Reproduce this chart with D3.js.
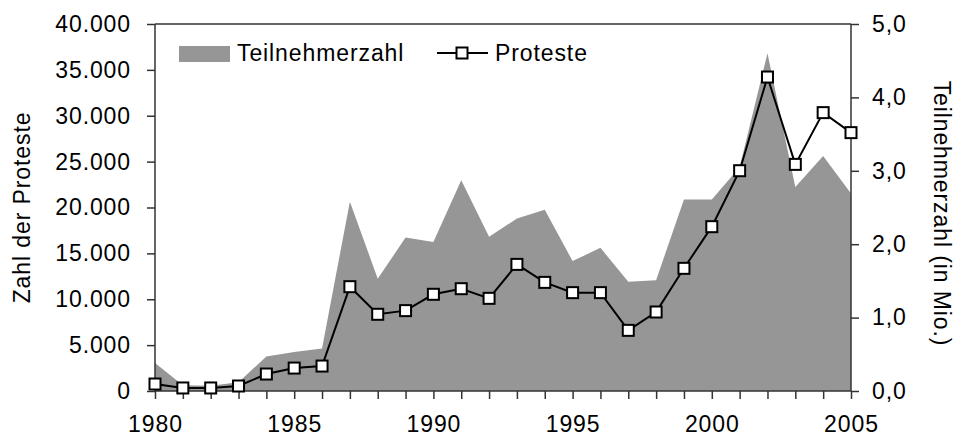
<!DOCTYPE html>
<html>
<head>
<meta charset="utf-8">
<script src="https://cdn.jsdelivr.net/npm/d3@7"></script>
<style>
  body { margin: 0; background: #fff; }
  text { font-family: "Liberation Sans", Arial, sans-serif; fill: #000; letter-spacing: 0.9px; }
</style>
</head>
<body>
<script>
// data
let years = d3.range(1980, 2006)
let teilnehmer = [0.38, 0.08, 0.07, 0.12, 0.47, 0.53, 0.58, 2.58, 1.53, 2.09, 2.03, 2.87, 2.10,
    2.35, 2.47, 1.77, 1.95, 1.49, 1.51, 2.61, 2.61, 3.05, 4.60, 2.78, 3.20, 2.69]   // in Mio.
let proteste = [760, 330, 330, 545, 1850, 2500, 2720, 11370, 8360, 8760, 10540, 11150, 10100,
    13800, 11840, 10720, 10720, 6610, 8610, 13370, 17910, 24010, 34220, 24700, 30340, 28160]
let leftTicks = d3.range(0, 40001, 5000)
let rightTicks = [0, 1, 2, 3, 4, 5]
let yearLabels = [1980, 1985, 1990, 1995, 2000, 2005]

// setup canvas
let width = 954
let height = 441
let fontSize = 23

let de = d3.formatLocale({ decimal: ",", thousands: ".", grouping: [3], currency: ["", " €"] })

let svg = d3.select("body").append("svg")
    .attr("width", width)
    .attr("height", height)

let x = d3.scaleLinear().domain([1980, 2005]).range([155, 851])
let yL = d3.scaleLinear().domain([0, 40000]).range([391, 24])
let yR = d3.scaleLinear().domain([0, 5]).range([391, 24])

let rows = years.map((y, i) => ({ year: y, t: teilnehmer[i], p: proteste[i] }))

// area (Teilnehmerzahl, right axis)
svg.append("path")
    .datum(rows)
    .attr("fill", "#969696")
    .attr("d", d3.area().x(d => x(d.year)).y0(yR(0)).y1(d => yR(d.t)))

// top frame line
svg.append("line")
    .attr("x1", x(1980)).attr("x2", x(2005))
    .attr("y1", yL(40000)).attr("y2", yL(40000))
    .attr("stroke", "#333").attr("stroke-width", 1.5)

// axes
let left = svg.append("g")
    .attr("transform", `translate(${x(1980)},0)`)
    .call(d3.axisLeft(yL).tickValues(leftTicks).tickSize(8).tickPadding(16)
        .tickFormat(de.format(",d")))

let right = svg.append("g")
    .attr("transform", `translate(${x(2005)},0)`)
    .call(d3.axisRight(yR).tickValues(rightTicks).tickSize(8).tickPadding(13)
        .tickFormat(de.format(".1f")))

let bottom = svg.append("g")
    .attr("transform", `translate(0,${yL(0)})`)
    .call(d3.axisBottom(x).tickValues(years).tickSize(8).tickPadding(17)
        .tickFormat(d => yearLabels.includes(d) ? String(d) : ""))

for (let g of [left, right, bottom]) {
    g.selectAll("path").attr("stroke", "#333").attr("stroke-width", 1.5)
    g.selectAll("line").attr("stroke", "#333").attr("stroke-width", 1.5)
    g.selectAll("text").attr("font-size", fontSize)
        .attr("font-family", "Liberation Sans, Arial, sans-serif").attr("fill", "#000")
}
left.select(".domain").attr("d", `M0,${yL(0)}V${yL(40000)}`)
right.select(".domain").attr("d", `M0,${yR(0)}V${yR(5)}`)
bottom.select(".domain").attr("d", `M${x(1980)},0H${x(2005)}`)

// line (Proteste, left axis)
svg.append("path")
    .datum(rows)
    .attr("fill", "none")
    .attr("stroke", "#000")
    .attr("stroke-width", 2)
    .attr("d", d3.line().x(d => x(d.year)).y(d => yL(d.p)))

let ms = 11
svg.append("g").selectAll("rect")
    .data(rows)
    .enter()
    .append("rect")
        .attr("x", d => x(d.year) - ms / 2)
        .attr("y", d => yL(d.p) - ms / 2)
        .attr("width", ms).attr("height", ms)
        .attr("fill", "#fff").attr("stroke", "#000").attr("stroke-width", 2)

// axis titles
svg.append("text")
    .attr("transform", `translate(30,${(yL(0) + yL(40000)) / 2}) rotate(-90)`)
    .attr("text-anchor", "middle")
    .attr("font-size", fontSize)
    .text("Zahl der Proteste")

svg.append("text")
    .attr("transform", `translate(934,${(yR(0) + yR(5)) / 2 + 6}) rotate(90)`)
    .attr("text-anchor", "middle")
    .attr("font-size", fontSize)
    .text("Teilnehmerzahl (in Mio.)")

// legend
let legend = svg.append("g")
legend.append("rect")
    .attr("x", 179).attr("y", 46).attr("width", 51).attr("height", 16)
    .attr("fill", "#969696")
legend.append("text")
    .attr("x", 237).attr("y", 61)
    .attr("font-size", fontSize)
    .text("Teilnehmerzahl")
legend.append("line")
    .attr("x1", 437).attr("x2", 488).attr("y1", 53).attr("y2", 53)
    .attr("stroke", "#000").attr("stroke-width", 2)
legend.append("rect")
    .attr("x", 462 - ms / 2).attr("y", 53 - ms / 2).attr("width", ms).attr("height", ms)
    .attr("fill", "#fff").attr("stroke", "#000").attr("stroke-width", 2)
legend.append("text")
    .attr("x", 495).attr("y", 61)
    .attr("font-size", fontSize)
    .text("Proteste")
</script>
</body>
</html>
